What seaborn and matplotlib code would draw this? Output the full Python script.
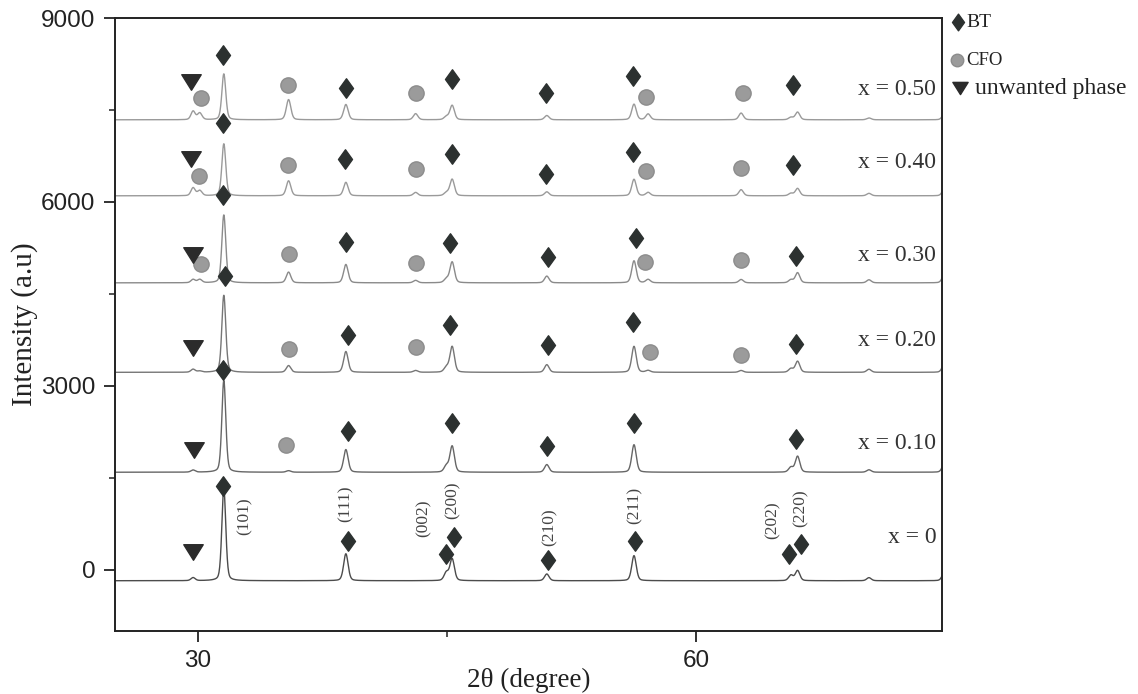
import numpy as np
import pandas as pd
import matplotlib
matplotlib.use("Agg")
import matplotlib.pyplot as plt
from matplotlib.path import Path
import seaborn as sns

# ---------------- data ----------------
compositions = ["x = 0", "x = 0.10", "x = 0.20", "x = 0.30", "x = 0.40", "x = 0.50"]
baselines = [-180, 1590, 3220, 4680, 6100, 7340]

# BaTiO3 reflections: (101) (111) (002) (200) (210) (211) (202) (220) (221) (310)
bt_peaks = [31.55, 38.9, 44.95, 45.3, 51.0, 56.25, 65.7, 66.1, 70.4, 74.95]
bt_heights = [
    [1500, 440, 130, 355, 110, 410, 90, 165, 50, 150],
    [1500, 370, 100, 425, 125, 450, 80, 260, 40, 150],
    [1260, 340, 80, 420, 125, 425, 60, 180, 50, 150],
    [1110, 300, 60, 340, 110, 360, 50, 165, 50, 150],
    [850, 220, 50, 270, 65, 270, 40, 120, 40, 120],
    [750, 250, 50, 235, 70, 255, 40, 125, 30, 100],
]
# CoFe2O4 reflections: (220) (311) (400) (511) (440)
cfo_peaks = [30.1, 35.45, 43.1, 57.1, 62.7]
cfo_heights = [
    [0, 0, 0, 0, 0],
    [0, 25, 0, 0, 0],
    [20, 110, 30, 30, 30],
    [55, 175, 40, 55, 55],
    [85, 245, 55, 55, 100],
    [110, 330, 100, 95, 110],
]
unwanted_peak = 29.7
unwanted_heights = [50, 35, 50, 55, 130, 140]

# phase markers (2theta, intensity)
bt_mark_x = [31.5, 38.9, 45.3, 50.95, 56.2, 65.85,
             31.5, 38.85, 45.3, 50.95, 56.2, 65.85,
             31.5, 38.9, 45.2, 51.05, 56.4, 66.0,
             31.6, 39.0, 45.2, 51.05, 56.2, 66.0,
             31.5, 39.0, 45.3, 51.0, 56.25, 66.0,
             31.5, 39.0, 44.9, 45.4, 51.1, 56.3, 65.6, 66.3]
bt_mark_y = [8400, 7860, 8010, 7770, 8060, 7900,
             7290, 6700, 6785, 6460, 6820, 6600,
             6120, 5350, 5330, 5100, 5410, 5120,
             4790, 3825, 3990, 3660, 4040, 3680,
             3250, 2270, 2400, 2010, 2390, 2140,
             1370, 475, 260, 540, 150, 460, 260, 425]
cfo_mark_x = [30.2, 35.4, 43.1, 57.0, 62.8,
              30.05, 35.4, 43.1, 57.0, 62.7,
              30.2, 35.5, 43.1, 56.9, 62.7,
              35.5, 43.1, 57.2, 62.7,
              35.3]
cfo_mark_y = [7700, 7910, 7780, 7720, 7780,
              6425, 6600, 6540, 6510, 6560,
              4985, 5150, 5000, 5020, 5050,
              3600, 3630, 3550, 3500,
              2030]
unw_mark_x = [29.6, 29.6, 29.7, 29.7, 29.75, 29.7]
unw_mark_y = [7960, 6700, 5130, 3610, 1945, 295]

label_y = [520, 2060, 3740, 5130, 6640, 7830]

hkl_text = ["(101)", "(111)", "(002)", "(200)", "(210)", "(211)", "(202)", "(220)"]
hkl_x = [32.8, 38.9, 43.6, 45.3, 51.2, 56.3, 64.6, 66.3]
hkl_y = [880, 1080, 835, 1130, 690, 1050, 800, 1000]

# ---------------- profiles ----------------
two_theta = np.arange(25.0, 74.81, 0.02)


def profile(center, height, fwhm=0.3, eta=0.3):
    g = np.exp(-4 * np.log(2) * ((two_theta - center) / fwhm) ** 2)
    l = 1.0 / (1.0 + 4 * ((two_theta - center) / fwhm) ** 2)
    return height * ((1 - eta) * g + eta * l)


frames = []
for i, name in enumerate(compositions):
    y = np.full_like(two_theta, float(baselines[i]))
    for c, h in zip(bt_peaks, bt_heights[i]):
        y += profile(c, h, 0.28 if c < 32 else 0.32)
    for c, h in zip(cfo_peaks, cfo_heights[i]):
        y += profile(c, h, 0.32)
    y += profile(unwanted_peak, unwanted_heights[i], 0.3)
    frames.append(pd.DataFrame({"two_theta": two_theta, "intensity": y,
                                "composition": name}))
xrd = pd.concat(frames, ignore_index=True)

# ---------------- figure ----------------
sns.set_theme(style="ticks")
plt.rcParams["font.family"] = ["Liberation Serif", "DejaVu Serif"]

fig = plt.figure(figsize=(11.38, 6.94), dpi=100)
ax = fig.add_axes([0.1011, 0.0908, 0.7267, 0.8832])

palette = {"x = 0": "#4c4c4c", "x = 0.10": "#666666", "x = 0.20": "#767676",
           "x = 0.30": "#8a8a8a", "x = 0.40": "#9a9a9a", "x = 0.50": "#9a9a9a"}
sns.lineplot(data=xrd, x="two_theta", y="intensity", hue="composition",
             palette=palette, estimator=None, sort=False, linewidth=1.0,
             legend=False, ax=ax, zorder=2)

diamond = Path([(0, 1), (0.72, 0), (0, -1), (-0.72, 0), (0, 1)],
               [Path.MOVETO, Path.LINETO, Path.LINETO, Path.LINETO, Path.CLOSEPOLY])
tri_down = Path([(-1, 0.8), (1, 0.8), (0, -0.8), (-1, 0.8)],
                [Path.MOVETO, Path.LINETO, Path.LINETO, Path.CLOSEPOLY])

bt_color = "#2c3130"
cfo_color = "#9b9b9b"
ax.plot(bt_mark_x, bt_mark_y, linestyle="none", marker=diamond, markersize=14,
        color=bt_color, zorder=4)
ax.plot(cfo_mark_x, cfo_mark_y, linestyle="none", marker="o", markersize=11,
        markerfacecolor=cfo_color, markeredgecolor="#8c8c8c", zorder=4)
ax.plot(unw_mark_x, unw_mark_y, linestyle="none", marker=tri_down, markersize=14,
        color="#2b2b2b", zorder=4)

for name, yv in zip(compositions, label_y):
    ax.text(74.45, yv, name, ha="right", va="center", fontsize=17, color="#333333")

for t, xv, yv in zip(hkl_text, hkl_x, hkl_y):
    ax.text(xv, yv, t, rotation=90, ha="center", va="center", fontsize=12.5,
            color="#444444")

# axes
ax.set_xlim(25, 74.8)
ax.set_ylim(-1000, 9000)
ax.set_xticks([30, 60])
ax.set_xticks([45], minor=True)
ax.set_yticks([0, 3000, 6000, 9000])
ax.set_yticks([1500, 4500, 7500], minor=True)
ax.tick_params(which="major", direction="out", length=8, width=1.3, pad=6,
               colors="#222222")
ax.tick_params(which="minor", direction="out", length=4, width=1.1,
               colors="#222222")
for lab in ax.get_xticklabels() + ax.get_yticklabels():
    lab.set_fontfamily("Liberation Sans")
    lab.set_fontsize(17.5)
for sp in ax.spines.values():
    sp.set_visible(True)
    sp.set_linewidth(1.4)
    sp.set_color("#222222")

ax.set_xlabel("2θ (degree)", fontsize=19.5, color="#222222", labelpad=-3)
ax.set_ylabel("Intensity (a.u)", fontsize=21, color="#222222", labelpad=2)

# phase key to the right of the frame
tr = ax.transAxes


def px(xp, yp):
    return ((xp - 115) / 827.0, (631 - yp) / 613.0)


ax.plot(*px(958, 22), marker=diamond, markersize=12, color=bt_color,
        transform=tr, clip_on=False)
ax.text(*px(966, 22), "BT", transform=tr, ha="left", va="center", fontsize=14,
        color="#222222")
ax.plot(*px(957, 60), marker="o", markersize=9, markerfacecolor=cfo_color,
        markeredgecolor="#8c8c8c", transform=tr, clip_on=False)
ax.text(*px(966, 60), "CFO", transform=tr, ha="left", va="center", fontsize=13.5,
        color="#222222")
ax.plot(*px(960, 88), marker=tri_down, markersize=11, color="#2b2b2b",
        transform=tr, clip_on=False)
ax.text(*px(975, 88), "unwanted phase", transform=tr, ha="left", va="center",
        fontsize=17, color="#222222")

fig.savefig("out.png", dpi=100, facecolor="white")
